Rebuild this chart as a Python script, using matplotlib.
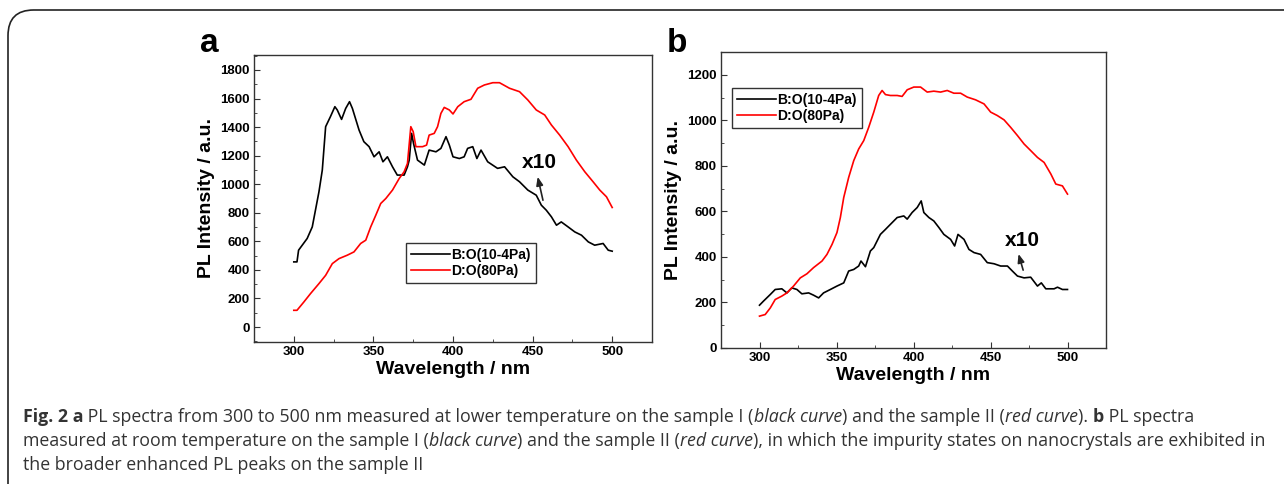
import matplotlib
matplotlib.use("Agg")
import matplotlib.pyplot as plt
from matplotlib.patches import FancyBboxPatch
from matplotlib.ticker import MultipleLocator

# panel a : low temperature
wl_a_black = [300, 302, 303, 308.4, 311.6, 315.8, 317.9, 320, 323, 325.8, 327.3, 330, 332.6, 335,
              336.8, 341, 344, 347.3, 350.4, 353.6, 356, 358.8, 362, 365, 369.3, 371.4, 372.5, 374,
              375.2, 377.7, 382, 385, 389.3, 392.4, 395.6, 397.7, 400, 404, 407, 409.2, 412.4, 415,
              417.6, 421.8, 428, 432.4, 437.6, 441.8, 447, 452.3, 455.5, 458.6, 461.8, 465, 468,
              472.3, 476.5, 480.7, 485, 489, 494.3, 497.5, 500]
pl_a_black = [456, 456, 538, 620, 701, 947, 1099, 1403, 1473, 1543, 1520, 1454, 1531, 1578,
              1531, 1379, 1298, 1263, 1192, 1227, 1157, 1192, 1122, 1064, 1064, 1122, 1169, 1356,
              1286, 1169, 1134, 1239, 1227, 1251, 1333, 1274, 1192, 1180, 1192, 1251, 1263, 1180,
              1239, 1157, 1111, 1122, 1052, 1017, 959, 923, 853, 818, 772, 713, 736,
              701, 666, 643, 596, 573, 585, 538, 531]
wl_a_red = [300, 302, 306.3, 310.5, 315.8, 320, 324.2, 328.4, 333.6, 337.8, 342, 345.2, 348.3,
            351.5, 354.6, 357.8, 362, 366.2, 369.3, 371.4, 373.5, 375, 376.7, 380.9, 383.4, 385,
            388.2, 390.3, 392.4, 394.5, 397.7, 400, 403, 407, 411.3, 415.5, 419.7, 425, 429.2,
            435.5, 441.8, 447, 452.3, 457.6, 461.8, 467, 472.3, 477.5, 482.8, 488, 492.2, 496.4, 500]
pl_a_red = [117, 117, 175, 234, 304, 362, 444, 479, 503, 526, 585, 608, 701,
            783, 865, 900, 959, 1040, 1087, 1146, 1403, 1368, 1263, 1263, 1274, 1344,
            1356, 1403, 1496, 1538, 1520, 1492, 1543, 1578, 1595, 1672, 1695, 1711, 1711,
            1672, 1648, 1590, 1520, 1485, 1415, 1344, 1263, 1169, 1087, 1017, 959, 912, 837]

# panel b : room temperature
wl_b_black = [300, 302.6, 307, 310.2, 314.5, 317.8, 321, 324.3, 327.5, 331.9, 335.1, 338.4, 341.6,
              346, 350.3, 354.7, 357.9, 361.2, 364.4, 365.9, 368.8, 372, 374.2, 378.5, 381.8, 385,
              389.4, 393.7, 395.9, 399.1, 402.4, 405, 406.7, 410, 413.2, 416.5, 419.7, 424.1, 426.7,
              428.9, 432.8, 436, 439.3, 443.6, 447.9, 452.3, 456.6, 461, 464.2, 467.5, 471.8, 476.1,
              480.5, 483, 485.9, 491.3, 493.5, 496.7, 500]
pl_b_black = [188, 206, 235, 257, 260, 242, 264, 257, 238, 242, 232, 220, 242,
              257, 272, 286, 338, 345, 360, 382, 357, 426, 441, 499, 521, 543,
              573, 580, 566, 595, 617, 646, 595, 573, 558, 529, 499, 477, 448,
              499, 477, 433, 419, 411, 375, 370, 360, 360, 338, 316, 308, 311,
              272, 286, 260, 260, 267, 257, 257]
wl_b_red = [300, 303.7, 307, 310.2, 314.5, 317.8, 322.1, 326.5, 330.8, 335.1, 340.6, 343.8, 347.1,
            350.3, 352.5, 354.7, 357.9, 361.2, 364.4, 367.7, 370.9, 374.2, 377.4, 379.6, 381.8, 385,
            389.4, 392.6, 395.9, 400.2, 404.6, 408.9, 413.2, 417.6, 421.9, 426.2, 430.6, 434.9,
            440.3, 445.8, 450.1, 454.4, 458.8, 463.1, 467.5, 471.8, 476.1, 480.5, 484.8, 489.2,
            492.4, 496.7, 500]
pl_b_red = [140, 147, 176, 213, 228, 242, 272, 308, 326, 353, 382, 411, 455,
            507, 573, 661, 749, 823, 874, 911, 969, 1036, 1109, 1131, 1113, 1109,
            1109, 1105, 1134, 1146, 1146, 1124, 1128, 1124, 1131, 1119, 1119, 1102,
            1090, 1072, 1036, 1021, 1002, 969, 933, 896, 867, 837, 815, 764,
            720, 712, 676]

labels = ["B:O(10-4Pa)", "D:O(80Pa)"]
caption = [
    [("Fig. 2 a", "bold", "normal"),
     (" PL spectra from 300 to 500 nm measured at lower temperature on the sample I (", "normal", "normal"),
     ("black curve", "normal", "italic"), (") and the sample II (", "normal", "normal"),
     ("red curve", "normal", "italic"), ("). ", "normal", "normal"), ("b", "bold", "normal"),
     (" PL spectra", "normal", "normal")],
    [("measured at room temperature on the sample I (", "normal", "normal"),
     ("black curve", "normal", "italic"), (") and the sample II (", "normal", "normal"),
     ("red curve", "normal", "italic"),
     ("), in which the impurity states on nanocrystals are exhibited in", "normal", "normal")],
    [("the broader enhanced PL peaks on the sample II", "normal", "normal")],
]

W, H = 1284, 484
fig = plt.figure(figsize=(W / 100, H / 100), dpi=100)
fnt = "Liberation Sans"

border = FancyBboxPatch((8 / W, -0.1), 1.2, (H - 10) / H + 0.1, transform=fig.transFigure,
                        boxstyle="round,pad=0,rounding_size=0.02", fc="none", ec="#222222",
                        lw=1.2, mutation_aspect=W / H)
fig.patches.append(border)


def panel(rect, xb, yb, xr, yr, ylim, ymaj, letter, letter_x, leg_kw, txt_xy, arr):
    ax = fig.add_axes(rect)
    ax.plot(xb, yb, color="black", lw=1.2, label=labels[0])
    ax.plot(xr, yr, color="#ff0000", lw=1.2, label=labels[1])
    ax.set_xlim(275, 525)
    ax.set_ylim(*ylim)
    ax.xaxis.set_major_locator(MultipleLocator(50))
    ax.xaxis.set_minor_locator(MultipleLocator(25))
    ax.yaxis.set_major_locator(MultipleLocator(ymaj))
    ax.yaxis.set_minor_locator(MultipleLocator(ymaj / 2))
    ax.tick_params(which="both", direction="in", top=False, right=False, color="#333333")
    ax.tick_params(which="major", length=4, pad=3)
    ax.tick_params(which="minor", length=2.5)
    ax.set_xticks([300, 350, 400, 450, 500])
    for lb in ax.get_xticklabels() + ax.get_yticklabels():
        lb.set_fontfamily(fnt)
        lb.set_fontweight("bold")
        lb.set_fontsize(9.5)
    for sp in ax.spines.values():
        sp.set_color("#333333")
        sp.set_linewidth(1)
    ax.set_xlabel("Wavelength / nm", family=fnt, fontweight="bold", fontsize=14, labelpad=2)
    ax.set_ylabel("PL Intensity / a.u.", family=fnt, fontweight="bold", fontsize=14, labelpad=4)
    leg = ax.legend(frameon=True, fancybox=False, framealpha=1, edgecolor="#333333",
                    prop=dict(family=fnt, weight="bold", size=10), handlelength=2.8,
                    handletextpad=0.1, labelspacing=0.15, borderpad=0.35, borderaxespad=0,
                    **leg_kw)
    leg.get_frame().set_linewidth(1)
    ax.text(txt_xy[0], txt_xy[1], "x10", family=fnt, fontweight="bold", fontsize=15,
            ha="center", va="center")
    ax.annotate("", xy=arr[1], xytext=arr[0],
                arrowprops=dict(arrowstyle="-|>,head_length=0.5,head_width=0.2", color="#222222",
                                lw=1.2, shrinkA=0, shrinkB=0))
    fig.text(letter_x / W, (H - 52) / H, letter, family=fnt, fontweight="bold",
             fontsize=24, va="baseline")
    return ax


panel([254 / W, (H - 342) / H, 398 / W, 287 / H], wl_a_black, pl_a_black, wl_a_red, pl_a_red,
      (-105, 1905), 200, "a", 200, dict(loc="lower left", bbox_to_anchor=(0.382, 0.206)),
      (454, 1151), [(456.5, 888), (453.2, 1052)])
panel([721 / W, (H - 348) / H, 385 / W, 296 / H], wl_b_black, pl_b_black, wl_b_red, pl_b_red,
      (0, 1300), 200, "b", 667, dict(loc="upper left", bbox_to_anchor=(0.0286, 0.878)),
      (470.5, 472), [(471.2, 342), (468.2, 413)])

# caption, built piece by piece so bold / italic runs sit on one baseline
renderer = fig.canvas.get_renderer()
cap_font = "Open Sans"
# size the caption so that the second (full) line spans the same width as in the figure
probe = fig.text(0, 0, "".join(p[0] for p in caption[1]), family=cap_font, fontsize=10)
cap_size = 10 * 1254 / probe.get_window_extent(renderer).width
probe.remove()
for i, line in enumerate(caption):
    x = 23 / W
    y = (H - 422 - 24 * i) / H
    for s, wgt, sty in line:
        t = fig.text(x, y, s, family=cap_font, fontsize=cap_size, fontweight=wgt, fontstyle=sty,
                     color="#333333", va="baseline")
        x += t.get_window_extent(renderer).width / W

fig.savefig("out.png", dpi=100)
